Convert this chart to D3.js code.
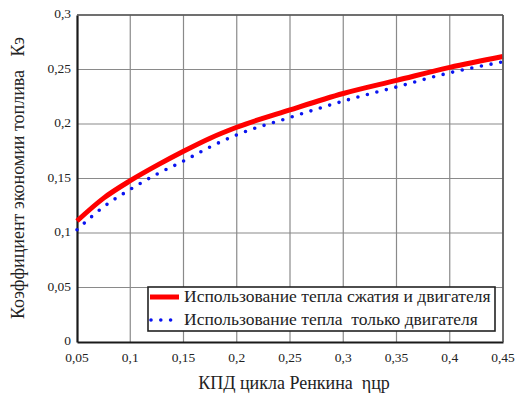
<!DOCTYPE html>
<html>
<head>
<meta charset="utf-8">
<script src="https://cdn.jsdelivr.net/npm/d3@7"></script>
</head>
<body style="margin:0;background:#fff">
<svg id="kplot" width="516" height="396"></svg>
<script>
// Rankine cycle efficiency (x) and fuel saving coefficient Kэ for two heat-use schemes
const eta = [0.05, 0.075, 0.1, 0.125, 0.15, 0.175, 0.2, 0.25, 0.3, 0.35, 0.4, 0.45];
const kCompressionEngine = [0.111, 0.132, 0.148, 0.162, 0.175, 0.187, 0.197, 0.213, 0.228, 0.240, 0.252, 0.262];
const kEngineOnly        = [0.103, 0.124, 0.140, 0.154, 0.166, 0.179, 0.190, 0.206, 0.221, 0.234, 0.247, 0.257];

const xTicks = [0.05, 0.1, 0.15, 0.2, 0.25, 0.3, 0.35, 0.4, 0.45];
const yTicks = [0, 0.05, 0.1, 0.15, 0.2, 0.25, 0.3];

const seriesNames = [
  "Использование тепла сжатия и двигателя",
  "Использование тепла  только двигателя"
];
const xTitle = "КПД цикла Ренкина  ηцр";
const yTitle = "Коэффициент экономии топлива   Кэ";

const FONT = "Liberation Serif";
const INK = "#222";

const svg = d3.select("#kplot");
const m = { left: 77, right: 503, top: 15, bottom: 342 };

const x = d3.scaleLinear().domain([0.05, 0.45]).range([m.left, m.right]);
const y = d3.scaleLinear().domain([0, 0.3]).range([m.bottom, m.top]);

const fmt = d => String(+d.toFixed(2)).replace(".", ",");

// grid
const grid = svg.append("g").attr("stroke", "#8a8a8a").attr("stroke-width", 1.2);
grid.selectAll(".vx").data(xTicks.slice(1)).join("line")
  .attr("x1", d => x(d)).attr("x2", d => x(d))
  .attr("y1", m.top).attr("y2", m.bottom);
grid.selectAll(".hy").data(yTicks.slice(1)).join("line")
  .attr("x1", m.left).attr("x2", m.right)
  .attr("y1", d => y(d)).attr("y2", d => y(d));

// axes (tick labels drawn as plain text below)
const xAxis = svg.append("g").attr("transform", `translate(0,${m.bottom})`)
  .call(d3.axisBottom(x).tickValues(xTicks).tickFormat("").tickSize(0));
const yAxis = svg.append("g").attr("transform", `translate(${m.left},0)`)
  .call(d3.axisLeft(y).tickValues(yTicks).tickFormat("").tickSize(0));
[xAxis, yAxis].forEach(a => {
  a.select(".domain").attr("stroke", "#1a1a1a").attr("stroke-width", 2.2);
});

const labels = svg.append("g").attr("font-family", FONT).attr("font-size", 13.5).attr("fill", INK);
labels.selectAll("text.xl").data(xTicks).join("text")
  .attr("x", d => x(d)).attr("y", m.bottom + 20).attr("text-anchor", "middle")
  .text(fmt);
labels.selectAll("text.yl").data(yTicks).join("text")
  .attr("x", m.left - 6).attr("y", d => y(d) + 3).attr("text-anchor", "end")
  .text(fmt);

// curves
const line = d3.line().x(d => x(d[0])).y(d => y(d[1])).curve(d3.curveMonotoneX);
svg.append("path")
  .datum(eta.map((e, i) => [e, kCompressionEngine[i]]))
  .attr("d", line).attr("fill", "none")
  .attr("stroke", "#ff0000").attr("stroke-width", 5);
svg.append("path")
  .datum(eta.map((e, i) => [e, kEngineOnly[i]]))
  .attr("d", line).attr("fill", "none")
  .attr("stroke", "#0a14f0").attr("stroke-width", 3.6)
  .attr("stroke-linecap", "round").attr("stroke-dasharray", "0 9.8");

// frame top/right
svg.append("line").attr("x1", m.left).attr("x2", m.right).attr("y1", m.top).attr("y2", m.top)
  .attr("stroke", "#555").attr("stroke-width", 1.6);
svg.append("line").attr("x1", m.right).attr("x2", m.right).attr("y1", m.top).attr("y2", m.bottom)
  .attr("stroke", "#555").attr("stroke-width", 1.6);

// legend
const lg = svg.append("g").attr("transform", "translate(148,287)");
lg.append("rect").attr("width", 347).attr("height", 44)
  .attr("fill", "#fff").attr("stroke", "#222").attr("stroke-width", 1.6);
lg.append("line").attr("x1", 2).attr("x2", 31).attr("y1", 10).attr("y2", 10)
  .attr("stroke", "#ff0000").attr("stroke-width", 5);
lg.append("line").attr("x1", 3).attr("x2", 31).attr("y1", 33).attr("y2", 33)
  .attr("stroke", "#0a14f0").attr("stroke-width", 3.6)
  .attr("stroke-linecap", "round").attr("stroke-dasharray", "0 9.8");
lg.selectAll("text.lt").data(seriesNames).join("text")
  .attr("x", 36).attr("y", (d, i) => 15 + i * 23)
  .attr("font-family", FONT).attr("font-size", 17.5).attr("fill", INK)
  .style("white-space", "pre").text(d => d);

// axis titles
svg.append("text").attr("x", 294).attr("y", 389).attr("text-anchor", "middle")
  .attr("font-family", FONT).attr("font-size", 18).attr("fill", INK)
  .style("white-space", "pre").text(xTitle);
svg.append("text").attr("transform", "translate(24,178) rotate(-90)")
  .attr("text-anchor", "middle")
  .attr("font-family", FONT).attr("font-size", 18).attr("fill", INK)
  .style("white-space", "pre").text(yTitle);
</script>
</body>
</html>
